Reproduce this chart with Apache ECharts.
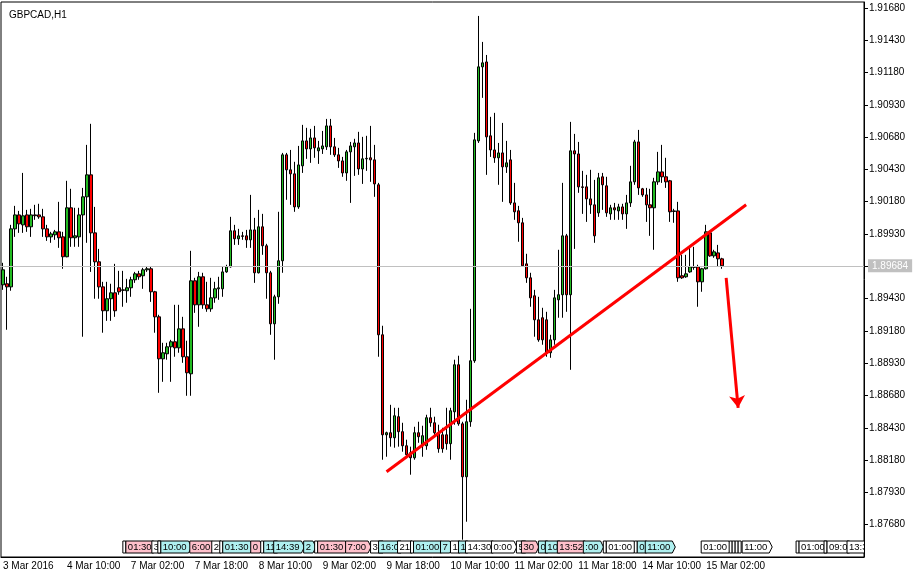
<!DOCTYPE html>
<html><head><meta charset="utf-8">
<script src="https://cdn.jsdelivr.net/npm/echarts@6/dist/echarts.min.js"></script>
<style>html,body{margin:0;padding:0;background:#fff}#c{width:921px;height:578px}</style>
</head><body><div id="c"></div>
<script>
const chartTitle = 'GBPCAD,H1';
const tickLabels = ['3 Mar 2016','4 Mar 10:00','7 Mar 02:00','7 Mar 18:00','8 Mar 10:00','9 Mar 02:00','9 Mar 18:00','10 Mar 10:00','11 Mar 02:00','11 Mar 18:00','14 Mar 10:00','15 Mar 02:00'];
const barsPerLabel = 16;
const slotCount = 216;
// [open, close, low, high]
const ohlc = [
[1.89537,1.89653,1.89498,1.89707],[1.89545,1.89521,1.89189,1.89599],[1.89521,1.89970,1.89491,1.90001],[1.89970,1.90078,1.89908,1.90148],
[1.90078,1.90009,1.89939,1.90109],[1.90001,1.90071,1.89939,1.90403],[1.90078,1.89986,1.89947,1.90117],[1.89986,1.90078,1.89908,1.90125],
[1.90078,1.90072,1.90040,1.90156],[1.90078,1.90063,1.90048,1.90164],[1.90063,1.89970,1.89908,1.90125],[1.89970,1.89908,1.89877,1.90001],
[1.89908,1.89931,1.89862,1.89947],[1.89924,1.89947,1.89885,1.89962],[1.89947,1.89901,1.89823,1.90179],[1.89908,1.89754,1.89661,1.89947],
[1.89754,1.90133,1.89750,1.90342],[1.90133,1.89901,1.89831,1.90280],[1.89901,1.89916,1.89831,1.90133],[1.89908,1.90078,1.89831,1.90133],
[1.90078,1.90218,1.89135,1.90287],[1.90218,1.90388,1.89862,1.90620],[1.90388,1.89939,1.89637,1.90783],[1.89939,1.89715,1.89429,1.90140],
[1.89715,1.89521,1.89429,1.89815],[1.89521,1.89336,1.89166,1.89560],[1.89336,1.89429,1.89258,1.89560],[1.89429,1.89475,1.89258,1.89545],
[1.89475,1.89336,1.89289,1.89699],[1.89514,1.89483,1.89460,1.89645],[1.89498,1.89494,1.89367,1.89645],[1.89491,1.89514,1.89398,1.89583],
[1.89514,1.89576,1.89444,1.89599],[1.89576,1.89622,1.89552,1.89637],[1.89622,1.89599,1.89576,1.89645],[1.89607,1.89653,1.89506,1.89668],
[1.89653,1.89661,1.89637,1.89676],[1.89661,1.89483,1.89405,1.89676],[1.89483,1.89289,1.89166,1.89490],[1.89289,1.88964,1.88701,1.89305],
[1.88964,1.89011,1.88786,1.89088],[1.89003,1.89057,1.88957,1.89088],[1.89057,1.89096,1.88786,1.89111],[1.89096,1.89049,1.88980,1.89382],
[1.89049,1.89196,1.89011,1.89382],[1.89196,1.88980,1.88933,1.89289],[1.88980,1.88856,1.88678,1.89104],[1.88848,1.89568,1.88678,1.89800],
[1.89568,1.89382,1.89320,1.89591],[1.89382,1.89599,1.89212,1.89637],[1.89599,1.89382,1.89351,1.89630],[1.89382,1.89351,1.89328,1.89560],
[1.89351,1.89436,1.89328,1.89591],[1.89436,1.89506,1.89398,1.89560],[1.89506,1.89514,1.89421,1.89599],[1.89506,1.89637,1.89444,1.89676],
[1.89637,1.89676,1.89630,1.89692],[1.89676,1.89955,1.89670,1.90063],[1.89955,1.89893,1.89846,1.90001],[1.89893,1.89916,1.89846,1.89970],
[1.89916,1.89912,1.89885,1.89947],[1.89916,1.89885,1.89823,1.89962],[1.89885,1.89962,1.89823,1.90233],[1.89962,1.89630,1.89552,1.90055],
[1.89630,1.89986,1.89625,1.90117],[1.89986,1.89839,1.89769,1.90086],[1.89839,1.89630,1.89429,1.89854],[1.89630,1.89235,1.89150,1.89645],
[1.89235,1.89444,1.88957,1.89460],[1.89444,1.89723,1.89390,1.90102],[1.89723,1.90543,1.89630,1.90558],[1.90543,1.90427,1.90195,1.90558],
[1.90427,1.90396,1.90156,1.90581],[1.90396,1.90140,1.90102,1.90489],[1.90140,1.90465,1.90125,1.90612],[1.90458,1.90651,1.90403,1.90775],
[1.90651,1.90589,1.90512,1.90752],[1.90589,1.90674,1.90481,1.90744],[1.90674,1.90597,1.90520,1.90767],[1.90574,1.90597,1.90473,1.90651],
[1.90589,1.90612,1.90550,1.90728],[1.90605,1.90767,1.90581,1.90821],[1.90767,1.90605,1.90543,1.90821],[1.90605,1.90543,1.90527,1.90674],
[1.90543,1.90496,1.90442,1.90597],[1.90496,1.90403,1.90373,1.90527],[1.90403,1.90566,1.90342,1.90581],[1.90566,1.90612,1.90171,1.90643],
[1.90605,1.90635,1.90380,1.90667],[1.90635,1.90434,1.90388,1.90721],[1.90434,1.90512,1.90318,1.90682],[1.90512,1.90516,1.90419,1.90690],
[1.90520,1.90504,1.90334,1.90767],[1.90504,1.90318,1.90218,1.90620],[1.90311,1.89150,1.88980,1.90326],[1.89150,1.88376,1.88183,1.89220],
[1.88376,1.88392,1.88206,1.88400],[1.88392,1.88353,1.88284,1.88608],[1.88353,1.88523,1.88276,1.88585],[1.88516,1.88400,1.88284,1.88585],
[1.88400,1.88291,1.88245,1.88469],[1.88291,1.88222,1.88206,1.88338],[1.88237,1.88198,1.88067,1.88284],[1.88198,1.88392,1.88183,1.88438],
[1.88392,1.88361,1.88314,1.88477],[1.88291,1.88369,1.88206,1.88446],[1.88291,1.88508,1.88260,1.88531],[1.88508,1.88469,1.88438,1.88585],
[1.88469,1.88392,1.88361,1.88516],[1.88392,1.88268,1.88237,1.88454],[1.88376,1.88268,1.88237,1.88430],[1.88376,1.88307,1.88260,1.88585],
[1.88307,1.88562,1.88183,1.88585],[1.88554,1.88918,1.88454,1.88957],[1.88918,1.88461,1.88446,1.88988],[1.88461,1.88051,1.87564,1.88477],
[1.88051,1.88477,1.87703,1.88647],[1.88477,1.88949,1.88438,1.89351],[1.88949,1.90659,1.88933,1.90713],[1.90651,1.91224,1.90635,1.91618],
[1.91224,1.91255,1.90984,1.91417],[1.91262,1.90682,1.90388,1.91316],[1.90690,1.90581,1.90527,1.90837],[1.90581,1.90520,1.90481,1.90868],
[1.90520,1.90558,1.90311,1.90635],[1.90558,1.90450,1.90179,1.90790],[1.90450,1.90481,1.90403,1.90651],[1.90504,1.90171,1.90156,1.90581],
[1.90171,1.90102,1.90040,1.90326],[1.90110,1.90017,1.89870,1.90148],[1.90017,1.89684,1.89676,1.90055],[1.89699,1.89591,1.89552,1.89777],
[1.89591,1.89436,1.89367,1.89630],[1.89452,1.89266,1.89135,1.89498],[1.89266,1.89111,1.89096,1.89444],[1.89282,1.89111,1.89073,1.89359],
[1.89266,1.89011,1.88980,1.89328],[1.89011,1.89111,1.88972,1.89150],[1.89111,1.89436,1.89073,1.89498],[1.89421,1.89460,1.89282,1.89808],
[1.89460,1.89916,1.89282,1.90326],[1.89916,1.89460,1.89328,1.89931],[1.89460,1.90574,1.88879,1.90798],[1.90574,1.90550,1.89815,1.90705],
[1.90550,1.90295,1.90249,1.90643],[1.90295,1.90291,1.90086,1.90419],[1.90295,1.90202,1.90024,1.90388],[1.90202,1.90156,1.90086,1.90427],
[1.90156,1.89916,1.89862,1.90349],[1.90094,1.90365,1.90063,1.90403],[1.90373,1.90311,1.90117,1.90403],[1.90303,1.90094,1.90063,1.90373],
[1.90086,1.90133,1.90040,1.90156],[1.90133,1.90117,1.90040,1.90171],[1.90109,1.90140,1.90040,1.90164],[1.90140,1.90086,1.90040,1.90164],
[1.90086,1.90171,1.89970,1.90233],[1.90171,1.90334,1.90140,1.90458],[1.90334,1.90643,1.90311,1.90659],[1.90643,1.90287,1.90233,1.90736],
[1.90280,1.90233,1.90218,1.90287],[1.90233,1.90156,1.90024,1.90287],[1.90156,1.90133,1.89916,1.90280],[1.90133,1.90334,1.89808,1.90365],
[1.90334,1.90411,1.90311,1.90566],[1.90411,1.90373,1.90326,1.90620],[1.90373,1.90334,1.90287,1.90520],[1.90342,1.90102,1.90024,1.90349],
[1.90109,1.90105,1.90017,1.90125],[1.90109,1.89591,1.89560,1.90179],[1.89607,1.89591,1.89583,1.89769],[1.89599,1.89622,1.89591,1.89769],
[1.89637,1.89676,1.89630,1.89823],[1.89676,1.89672,1.89653,1.89831],[1.89676,1.89560,1.89367,1.89692],[1.89560,1.89661,1.89483,1.89668],
[1.89661,1.89947,1.89655,1.90001],[1.89939,1.89761,1.89754,1.89955],[1.89761,1.89792,1.89746,1.89808],[1.89784,1.89738,1.89676,1.89846],
[1.89738,1.89684,1.89661,1.89746]
];
const lastPrice = 1.89684;
const priceMin = 1.8743, priceMax = 1.91726, priceStep = 0.0025;
const trendLine = [[96, 1.88090], [186, 1.90156]];
const arrowLine = [[181, 1.89591], [184, 1.88585]];
// calendar event flags along the bottom: slot (bar index), text, colour key
const evSlot = [30,30.75,37.25,38.75,39.5,46.75,52.25,54.25,55,62,64.5,65.25,67.75,75.25,78,78.75,85.75,92,94,98.75,102,102.75,109.5,112,114,115.75,122.25,128.5,129.75,134,135.75,138.75,145.25,150.25,151,158,158.75,160.75,174.75,181.75,182.5,183.25,184,185,198.5,199.25,205.5,206.25,211.25];
const evText = ['','01:30','3','','10:00','6:00','2','','01:30','0','','11','14:39','2','','01:30','7:00','3(','16:0','21','','01:00','7','1','1','14:30','0:00','5','30','0','10','13:52',':00','','01:00','','0','11:00','01:00','','','','','11:00','','01:00','','09:0','13:3'];
const evColor = ['w','p','w','w','c','p','w','w','c','p','w','c','c','c','w','p','p','w','c','w','w','c','c','w','c','w','w','w','p','c','c','p','c','w','w','w','c','c','w','w','w','w','w','w','w','w','w','w','w'];

const FONT = '"Liberation Sans", Arial, sans-serif';
const FSIZE = 9.5;
const fillOf = {w:'#ffffff', p:'#ffc0cb', c:'#aff0f0'};
const categories = Array.from({length: slotCount}, (_, i) =>
  (i % barsPerLabel === 0 && i / barsPerLabel < tickLabels.length) ? tickLabels[i / barsPerLabel] : '');
const showTick = (i, v) => v !== '';
const measureCtx = document.createElement('canvas').getContext('2d');
measureCtx.font = FSIZE + 'px ' + FONT;

const chart = echarts.init(document.getElementById('c'), null, {renderer: 'canvas'});
chart.setOption({
  animation: false,
  backgroundColor: '#fff',
  title: {text: chartTitle, left: 4, top: 5, textStyle: {fontFamily: FONT, fontSize: 10, fontWeight: 'normal', color: '#000'}},
  grid: {left: 0, right: 57, top: 2, bottom: 21, show: true, borderColor: '#000', borderWidth: 1, backgroundColor: '#fff'},
  xAxis: {
    type: 'category', data: categories, boundaryGap: true,
    axisLine: {lineStyle: {color: '#000', width: 1}},
    axisTick: {alignWithLabel: true, interval: showTick, length: 5, lineStyle: {color: '#000'}},
    axisLabel: {interval: showTick, hideOverlap: false, align: 'left', margin: 4, fontFamily: FONT, fontSize: 10, color: '#000'},
    splitLine: {show: false}
  },
  yAxis: {
    type: 'value', position: 'right', scale: true,
    min: priceMin, max: priceMax, interval: priceStep,
    axisLine: {show: true, lineStyle: {color: '#000'}},
    axisTick: {show: true, length: 4, lineStyle: {color: '#000'}},
    axisLabel: {showMinLabel: false, showMaxLabel: false, margin: 5, fontFamily: FONT, fontSize: 10, color: '#000',
      formatter: v => v.toFixed(5)},
    splitLine: {show: false}
  },
  series: [{
    type: 'candlestick',
    data: ohlc,
    barWidth: 3,
    itemStyle: {color: '#22bb22', color0: '#ff0000', borderColor: '#000', borderColor0: '#000', borderWidth: 1},
    markLine: {
      silent: true, animation: false, symbol: 'none',
      data: [
        [{yAxis: lastPrice, x: 0, symbol: 'none', lineStyle: {color: '#c0c0c0', width: 1, type: 'solid'},
          label: {show: true, position: 'end', formatter: lastPrice.toFixed(5), color: '#fff', backgroundColor: '#c0c0c0',
            padding: [2, 4, 1, 4], fontFamily: FONT, fontSize: 10, distance: 4}},
         {yAxis: lastPrice, x: 864, symbol: 'none'}],
        [{coord: trendLine[0], symbol: 'none', lineStyle: {color: '#ff0000', width: 3, type: 'solid'}, label: {show: false}},
         {coord: trendLine[1], symbol: 'none'}],
        [{coord: arrowLine[0], symbol: 'none', lineStyle: {color: '#ff0000', width: 3, type: 'solid'}, label: {show: false}},
         {coord: arrowLine[1], symbol: 'arrow', symbolSize: 12}]
      ]
    }
  }, {
    type: 'custom',
    clip: true,
    silent: true,
    data: evSlot.map(s => [Math.floor(s), priceMin]),
    encode: {x: 0, y: 1},
    renderItem: (params, api) => {
      const i = params.dataIndex;
      const cs = params.coordSys;
      const band = api.size([1, 0])[0];
      const cx = api.coord([api.value(0), priceMin])[0] + (evSlot[i] - Math.floor(evSlot[i])) * band;
      const txt = evText[i];
      const w = txt ? measureCtx.measureText(txt).width + 4 : 3;
      const y0 = cs.y + cs.height - 16, y1 = y0 + 12, ym = (y0 + y1) / 2;
      const pts = txt ? [[cx, y0], [cx + w, y0], [cx + w + 3, ym], [cx + w, y1], [cx, y1]]
                      : [[cx, y0], [cx + w, y0], [cx + w, y1], [cx, y1]];
      return {type: 'group', children: [
        {type: 'polygon', shape: {points: pts}, style: {fill: fillOf[evColor[i]], stroke: '#000', lineWidth: 1}},
        {type: 'text', style: {text: txt, x: cx + 2, y: ym + 0.5, fill: '#000', font: FSIZE + 'px ' + FONT, verticalAlign: 'middle'}}
      ]};
    }
  }]
});
</script></body></html>
